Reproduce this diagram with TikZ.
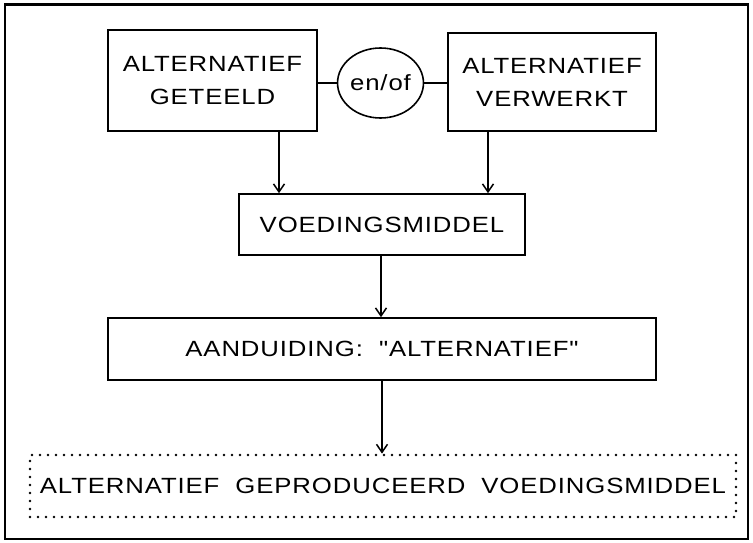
\documentclass[tikz,border=0pt]{standalone}
\usepackage{fontspec}
\newfontfamily\schemafont[FakeStretch=1.17, LetterSpace=4]{Liberation Sans}
\usetikzlibrary{shapes.geometric, arrows.meta}

\begin{document}
\begin{tikzpicture}[x=1pt, y=-1pt, >={Straight Barb[length=8pt, width=11pt]},
    font=\schemafont\fontsize{22}{33}\selectfont]
    \tikzstyle{format} = [draw, line width=1.6pt, rectangle, align=center,
	inner sep=0pt]
    \tikzstyle{keuze} = [draw, line width=1.6pt, ellipse, minimum width=75pt,
	minimum height=70pt, inner sep=0pt]
    \tikzstyle{stippel} = [draw, line width=2.8pt, line cap=round,
	dash pattern=on 0pt off 8pt, rectangle, inner sep=0pt]

	\useasboundingbox (0,0) rectangle (753,543);
	\draw[line width=2.6pt] (5,4.5) rectangle (748,539);

	\path[->, line width=1.5pt]
		node[format, minimum width=209pt, minimum height=101pt] (geteeld) at (212.5,80.5)
			{ALTERNATIEF\\GETEELD}
		node[keuze] (enof) at (380.5,83) {en/of}
		node[format, minimum width=208pt, minimum height=98pt] (verwerkt) at (552,82)
			{ALTERNATIEF\\VERWERKT}
		node[format, minimum width=286pt, minimum height=61pt] (middel) at (382,224.5)
			{VOEDINGSMIDDEL}
		node[format, minimum width=548pt, minimum height=62pt] (aand) at (382,349)
			{AANDUIDING:\ \ "ALTERNATIEF"}
		node[stippel, minimum width=706pt, minimum height=62pt] (prod) at (383,486)
			{ALTERNATIEF\ \ GEPRODUCEERD\ \ VOEDINGSMIDDEL}
		;

	% en/of verbindingen
	\draw[line width=1.5pt] (geteeld.east |- enof.west) -- (enof.west);
	\draw[line width=1.5pt] (enof.east) -- (verwerkt.west |- enof.east);

	% pijlen
	\draw[->, line width=1.5pt] ([xshift=66.5pt]geteeld.south) -- ([xshift=66.5pt]geteeld.south |- middel.north);
	\draw[->, line width=1.5pt] ([xshift=-64pt]verwerkt.south) -- ([xshift=-64pt]verwerkt.south |- middel.north);
	\draw[->, line width=1.5pt] ([xshift=-1pt]middel.south) -- ([xshift=-1pt]middel.south |- aand.north);
	\draw[->, line width=1.5pt] (aand.south) -- (aand.south |- prod.north);

\end{tikzpicture}
\end{document}
